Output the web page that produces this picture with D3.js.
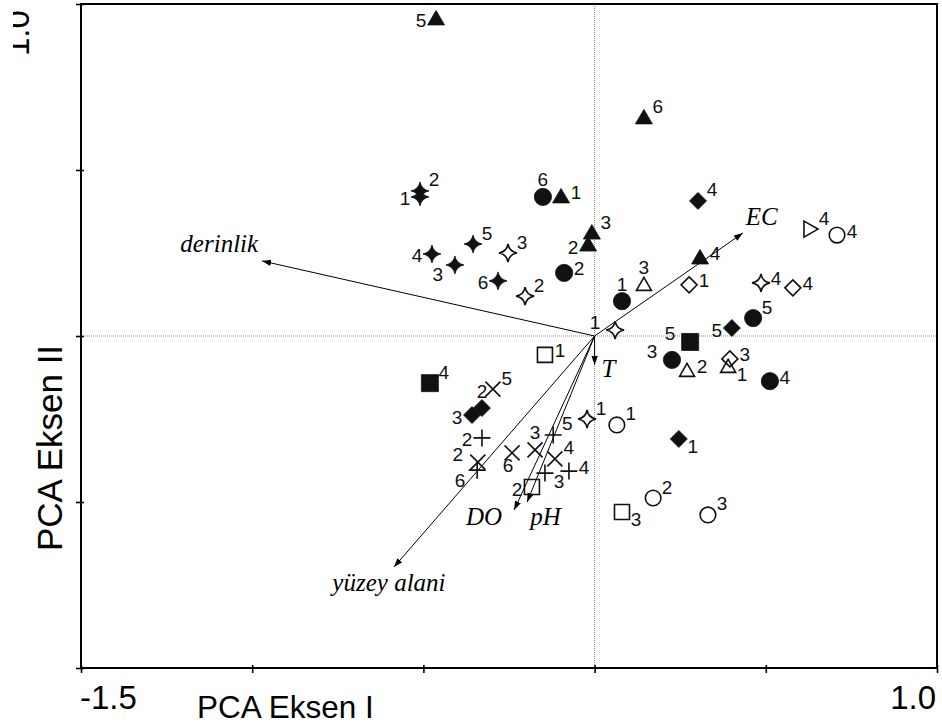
<!DOCTYPE html>
<html>
<head>
<meta charset="utf-8">
<script src="https://cdn.jsdelivr.net/npm/d3@7/dist/d3.min.js"></script>
<style>
  body { margin: 0; background: #fff; }
  svg { display: block; }
</style>
</head>
<body>
<svg id="chart" width="942" height="727"></svg>
<script>
// ---- axis ticks ----
const xTicks = [-1.5, -1.0, -0.5, 0, 0.5, 1.0];
const yTicks = [-1.0, -0.5, 0, 0.5, 1.0];
const xTickLabels = ["-1.5", "1.0"];
const yTickLabels = ["1.0"];

// ---- environmental vectors ----
const vectorNames = ["derinlik", "EC", "T", "DO", "pH", "yüzey alani"];
const vectorX = [-0.971, 0.433, 0.000, -0.235, -0.197, -0.586];
const vectorY = [0.226, 0.310, -0.087, -0.524, -0.500, -0.696];

// ---- site scores, one set of arrays per symbol ----
const triFilledX = [-0.463, 0.144, -0.098, -0.008, -0.019, 0.308];
const triFilledY = [0.955, 0.657, 0.419, 0.310, 0.274, 0.235];
const triFilledLabels = ["5", "6", "1", "3", "2", "4"];
const triFilledSides = ["W", "NE", "E", "NE", "W", "E"];

const triOpenX = [0.144, 0.270, 0.390];
const triOpenY = [0.154, -0.105, -0.093];
const triOpenLabels = ["3", "2", "1"];
const triOpenSides = ["N", "E", "SE"];

const triRightX = [0.629];
const triRightY = [0.322];
const triRightLabels = ["4"];
const triRightSides = ["NE"];

const circleFilledX = [-0.151, -0.089, 0.080, 0.463, 0.226, 0.512];
const circleFilledY = [0.419, 0.190, 0.105, 0.054, -0.072, -0.136];
const circleFilledLabels = ["6", "2", "1", "5", "3", "4"];
const circleFilledSides = ["N", "E", "N", "NE", "NW", "E"];

const circleOpenX = [0.708, 0.065, 0.171, 0.331];
const circleOpenY = [0.304, -0.268, -0.488, -0.539];
const circleOpenLabels = ["4", "1", "2", "3"];
const circleOpenSides = ["E", "NE", "NE", "NE"];

const diamondFilledX = [0.302, 0.401, 0.246, -0.329, -0.358];
const diamondFilledY = [0.407, 0.024, -0.310, -0.217, -0.238];
const diamondFilledLabels = ["4", "5", "1", "2", "3"];
const diamondFilledSides = ["NE", "W", "SE", "N", "W"];

const diamondOpenX = [0.276, 0.579, 0.395];
const diamondOpenY = [0.154, 0.145, -0.069];
const diamondOpenLabels = ["1", "4", "3"];
const diamondOpenSides = ["E", "E", "E"];

const squareFilledX = [-0.481, 0.279];
const squareFilledY = [-0.142, -0.018];
const squareFilledLabels = ["4", "5"];
const squareFilledSides = ["NE", "NW"];

const squareOpenX = [-0.145, -0.183, 0.080];
const squareOpenY = [-0.057, -0.455, -0.530];
const squareOpenLabels = ["1", "2", "3"];
const squareOpenSides = ["E", "W", "SE"];

const starFilledX = [-0.510, -0.510, -0.475, -0.408, -0.355, -0.282];
const starFilledY = [0.419, 0.437, 0.247, 0.214, 0.277, 0.166];
const starFilledLabels = ["1", "2", "4", "3", "5", "6"];
const starFilledSides = ["W", "NE", "W", "SW", "NE", "W"];

const starOpenX = [-0.253, -0.203, 0.060, 0.486, -0.022];
const starOpenY = [0.250, 0.120, 0.018, 0.160, -0.250];
const starOpenLabels = ["3", "2", "1", "4", "1"];
const starOpenSides = ["NE", "NE", "NW", "E", "NE"];

const crossX = [-0.297, -0.341, -0.241, -0.174, -0.116];
const crossY = [-0.160, -0.380, -0.352, -0.343, -0.370];
const crossLabels = ["5", "2", "6", "3", "4"];
const crossSides = ["NE", "NW", "S", "N", "NE"];

const plusX = [-0.329, -0.343, -0.121, -0.145, -0.075];
const plusY = [-0.307, -0.404, -0.298, -0.413, -0.407];
const plusLabels = ["2", "6", "5", "3", "4"];
const plusSides = ["W", "SW", "NE", "SE", "E"];

// ---- layout ----
const svg = d3.select("#chart");
const plotLeft = 81, plotRight = 937, plotTop = 4, plotBottom = 668;

const x = d3.scaleLinear().domain([-1.5, 1.0]).range([plotLeft, plotRight]);
const y = d3.scaleLinear().domain([-1.0, 1.0]).range([plotBottom, plotTop]);

const sans = "'Liberation Sans', Arial, Helvetica, sans-serif";
const serif = "'Liberation Serif', 'Times New Roman', Times, serif";

const defs = svg.append("defs");

// zero reference lines
svg.append("line")
  .attr("x1", x(0)).attr("x2", x(0)).attr("y1", plotTop).attr("y2", plotBottom)
  .attr("stroke", "#8a8a8a").attr("stroke-width", 1).attr("stroke-dasharray", "1 1");
svg.append("line")
  .attr("x1", plotLeft).attr("x2", plotRight).attr("y1", y(0)).attr("y2", y(0))
  .attr("stroke", "#8a8a8a").attr("stroke-width", 1).attr("stroke-dasharray", "1 1");

// arrowhead
defs.append("marker")
  .attr("id", "head")
  .attr("viewBox", "0 -4 9 8")
  .attr("refX", 9).attr("refY", 0)
  .attr("markerUnits", "userSpaceOnUse")
  .attr("markerWidth", 9).attr("markerHeight", 8)
  .attr("orient", "auto")
  .append("path").attr("d", "M0,-3.2L9,0L0,3.2Z").attr("fill", "#000");

// vector label placement relative to the arrow tip
const vectorLabelPos = {
  "derinlik":    { dx: -4,  dy: -9,  anchor: "end" },
  "EC":          { dx: 3,   dy: -8,  anchor: "start" },
  "T":           { dx: 7,   dy: 12,  anchor: "start" },
  "DO":          { dx: -12, dy: 15,  anchor: "end" },
  "pH":          { dx: 3,   dy: 23,  anchor: "start" },
  "yüzey alani": { dx: -5,  dy: 24,  anchor: "middle" }
};

const vectors = vectorNames.map((n, i) => ({ name: n, x: vectorX[i], y: vectorY[i] }));

svg.append("g").selectAll("line").data(vectors).join("line")
  .attr("x1", x(0)).attr("y1", y(0))
  .attr("x2", d => x(d.x)).attr("y2", d => y(d.y))
  .attr("stroke", "#000").attr("stroke-width", 1)
  .attr("marker-end", "url(#head)");

svg.append("g").selectAll("text").data(vectors).join("text")
  .attr("x", d => x(d.x) + vectorLabelPos[d.name].dx)
  .attr("y", d => y(d.y) + vectorLabelPos[d.name].dy)
  .attr("text-anchor", d => vectorLabelPos[d.name].anchor)
  .attr("font-family", serif).attr("font-style", "italic").attr("font-size", 25)
  .attr("fill", "#000")
  .text(d => d.name);

// ---- symbol shapes ----
const shapes = {
  triangle: "M0,-8.5L8.5,6L-8.5,6Z",
  triangleOpen: "M0,-7.5L7.5,5.5L-7.5,5.5Z",
  triangleRight: "M-6,-8L8,0L-6,8Z",
  circle: d3.symbol(d3.symbolCircle, Math.PI * 8.6 * 8.6)(),
  circleOpen: d3.symbol(d3.symbolCircle, Math.PI * 7.8 * 7.8)(),
  square: "M-8.5,-8.5H8.5V8.5H-8.5Z",
  squareOpen: "M-7.5,-7.5H7.5V7.5H-7.5Z",
  diamond: "M0,-8.5L8.5,0L0,8.5L-8.5,0Z",
  diamondOpen: "M0,-8L8,0L0,8L-8,0Z",
  star: "M0,-9Q1.6,-1.6 9,0Q1.6,1.6 0,9Q-1.6,1.6 -9,0Q-1.6,-1.6 0,-9Z",
  starOpen: "M0,-9Q1.3,-1.3 9,0Q1.3,1.3 0,9Q-1.3,1.3 -9,0Q-1.3,-1.3 0,-9Z",
  cross: "M-7.5,-7.5L7.5,7.5M-7.5,7.5L7.5,-7.5",
  plus: "M-8.5,0H8.5M0,-8.5V8.5"
};

const groups = [
  { shape: "triangle", filled: true, xs: triFilledX, ys: triFilledY, labels: triFilledLabels, sides: triFilledSides },
  { shape: "triangleOpen", filled: false, xs: triOpenX, ys: triOpenY, labels: triOpenLabels, sides: triOpenSides },
  { shape: "triangleRight", filled: false, xs: triRightX, ys: triRightY, labels: triRightLabels, sides: triRightSides },
  { shape: "circle", filled: true, xs: circleFilledX, ys: circleFilledY, labels: circleFilledLabels, sides: circleFilledSides },
  { shape: "circleOpen", filled: false, xs: circleOpenX, ys: circleOpenY, labels: circleOpenLabels, sides: circleOpenSides },
  { shape: "diamond", filled: true, xs: diamondFilledX, ys: diamondFilledY, labels: diamondFilledLabels, sides: diamondFilledSides },
  { shape: "diamondOpen", filled: false, xs: diamondOpenX, ys: diamondOpenY, labels: diamondOpenLabels, sides: diamondOpenSides },
  { shape: "square", filled: true, xs: squareFilledX, ys: squareFilledY, labels: squareFilledLabels, sides: squareFilledSides },
  { shape: "squareOpen", filled: false, xs: squareOpenX, ys: squareOpenY, labels: squareOpenLabels, sides: squareOpenSides },
  { shape: "star", filled: true, xs: starFilledX, ys: starFilledY, labels: starFilledLabels, sides: starFilledSides },
  { shape: "starOpen", filled: false, xs: starOpenX, ys: starOpenY, labels: starOpenLabels, sides: starOpenSides },
  { shape: "cross", filled: false, xs: crossX, ys: crossY, labels: crossLabels, sides: crossSides },
  { shape: "plus", filled: false, xs: plusX, ys: plusY, labels: plusLabels, sides: plusSides }
];

// label offsets (px) from the symbol centre, by compass side
const sideOffset = {
  E: [15, -4], W: [-15, 2], N: [0, -17], S: [-4, 13],
  NE: [14, -11], NW: [-20, -8], SE: [14, 8], SW: [-17, 10]
};

const points = [];
groups.forEach(g => {
  g.xs.forEach((v, i) => points.push({
    shape: g.shape, filled: g.filled, x: v, y: g.ys[i], label: g.labels[i], side: g.sides[i]
  }));
});

svg.append("g").selectAll("path").data(points).join("path")
  .attr("transform", d => `translate(${x(d.x)},${y(d.y)})`)
  .attr("d", d => shapes[d.shape])
  .attr("fill", d => d.filled ? "#111" : "none")
  .attr("stroke", "#111")
  .attr("stroke-width", d => d.filled ? 0.8 : 1.6)
  .attr("stroke-linejoin", "miter");

svg.append("g").selectAll("text").data(points).join("text")
  .attr("x", d => x(d.x) + sideOffset[d.side][0])
  .attr("y", d => y(d.y) + sideOffset[d.side][1])
  .attr("text-anchor", "middle")
  .attr("dominant-baseline", "central")
  .attr("font-family", sans).attr("font-size", 19)
  .attr("fill", "#111")
  .text(d => d.label);

// ---- frame and ticks ----
const xAxis = svg.append("g")
  .attr("transform", `translate(0,${plotBottom})`)
  .call(d3.axisBottom(x).tickValues(xTicks).tickSize(5).tickFormat(""));
xAxis.select(".domain").remove();
xAxis.selectAll(".tick line").attr("y1", -3).attr("y2", 5).attr("stroke", "#000").attr("stroke-width", 1.6);

const yAxis = svg.append("g")
  .attr("transform", `translate(${plotLeft},0)`)
  .call(d3.axisLeft(y).tickValues(yTicks).tickSize(5).tickFormat(""));
yAxis.select(".domain").remove();
yAxis.selectAll(".tick line").attr("x1", 3).attr("x2", -5).attr("stroke", "#000").attr("stroke-width", 1.6);

svg.append("rect")
  .attr("x", plotLeft).attr("y", plotTop)
  .attr("width", plotRight - plotLeft).attr("height", plotBottom - plotTop)
  .attr("fill", "none").attr("stroke", "#000").attr("stroke-width", 2);

// tick labels
svg.append("text")
  .attr("x", x(xTicks[0]) - 1).attr("y", 709)
  .attr("font-family", sans).attr("font-size", 33).attr("fill", "#000")
  .text(xTickLabels[0]);
svg.append("text")
  .attr("x", x(xTicks[xTicks.length - 1]) - 1).attr("y", 709)
  .attr("text-anchor", "end")
  .attr("font-family", sans).attr("font-size", 33).attr("fill", "#000")
  .text(xTickLabels[1]);

defs.append("clipPath").attr("id", "topLabelClip")
  .append("rect").attr("x", 13).attr("y", 0).attr("width", 60).attr("height", 80);
svg.append("g").attr("clip-path", "url(#topLabelClip)")
  .append("text")
  .attr("transform", `translate(29,${y(yTicks[yTicks.length - 1]) + 52}) rotate(-90)`)
  .attr("font-family", sans).attr("font-size", 33).attr("fill", "#000")
  .text(yTickLabels[0]);

// axis titles
svg.append("text")
  .attr("x", 197).attr("y", 718)
  .attr("font-family", sans).attr("font-size", 31.5).attr("fill", "#000")
  .text("PCA Eksen I");
svg.append("text")
  .attr("transform", "translate(62,448) rotate(-90)")
  .attr("text-anchor", "middle")
  .attr("font-family", sans).attr("font-size", 35).attr("fill", "#000")
  .text("PCA Eksen II");
</script>
</body>
</html>
